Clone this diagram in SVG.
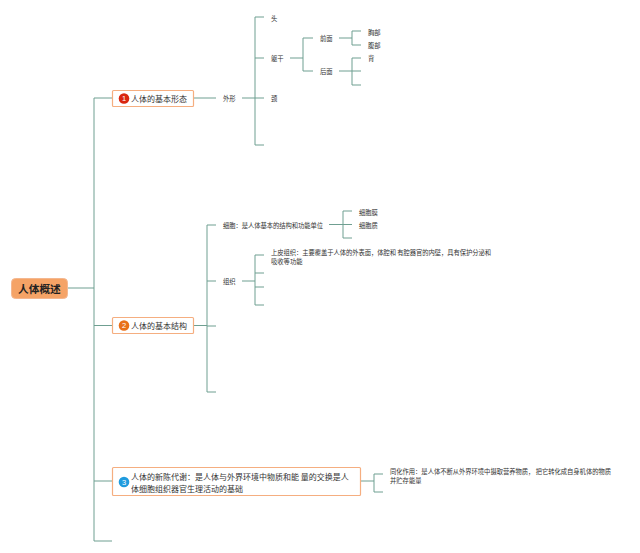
<svg xmlns="http://www.w3.org/2000/svg" width="640" height="553" viewBox="0 0 640 553">
<style>
.c{fill:none;stroke:#6f9f91;stroke-width:1}
.t{font-family:"Noto Sans CJK SC","Liberation Sans",sans-serif;fill:#333}
.s{font-size:6.300px;dominant-baseline:central}
.m{font-size:8px;dominant-baseline:central}
.b{fill:#fff;stroke:#f5ae80;stroke-width:1.200}
.n{font-family:"Liberation Sans",sans-serif;font-size:7.500px;fill:#fff;text-anchor:middle;dominant-baseline:central}
</style>
<rect width="640" height="553" fill="#fff"/>
<g id="connectors" class="c">
<path d="M67 288H94M112 98H94V541H112M94 325.500H112M94 481H112"/>
<path d="M194 98H216M242 98H264M264 17H255V145H264M255 58H264"/>
<path d="M290 58H303M313 38H303V71H313"/>
<path d="M339 38H352M361 31H352V45H361"/>
<path d="M339 71H361M361 58H352V85H361"/>
<path d="M194 325.500H207M216 225H207V392H216M207 281H216M207 326H216"/>
<path d="M329 224.500H352M352 211H343V238H352"/>
<path d="M242 281H255M264 255H255V305H264M255 273H264M255 287H264"/>
<path d="M361 481H374M383 474H374V492H383"/>
</g>
<g id="root"><rect x="11.500" y="278.500" width="56" height="20" rx="4" fill="#f5a366" stroke="#f4b78f"/><text class="t" x="18" y="288.500" font-size="10.700" font-weight="700" dominant-baseline="central" style="fill:#222">人体概述</text></g>
<g id="n1"><rect class="b" x="112.500" y="90.500" width="81" height="16" rx="1"/><circle cx="124" cy="98.500" r="5.300" fill="#d9260f"/><text class="n" x="124" y="98.500">1</text><text class="t m" x="131" y="98.500">人体的基本形态</text></g>
<g id="n2"><rect class="b" x="112.500" y="317.500" width="81" height="16" rx="1"/><circle cx="124" cy="325.500" r="5.300" fill="#e8701a"/><text class="n" x="124" y="325.500">2</text><text class="t m" x="131" y="325.500">人体的基本结构</text></g>
<g id="n3"><rect class="b" x="112.500" y="467.500" width="248" height="28" rx="1"/><circle cx="124" cy="482" r="5.300" fill="#1f9bde"/><text class="n" x="124" y="482">3</text><text class="t m" x="131" y="476.500">人体的新陈代谢：是人体与外界环境中物质和能 量的交换是人</text><text class="t m" x="131" y="488">体细胞组织器官生理活动的基础</text></g>
<g id="waixing"><text class="t s" x="223" y="98.500">外形</text></g>
<g id="tou"><text class="t s" x="271" y="18">头</text></g>
<g id="qugan"><text class="t s" x="271" y="58.500">躯干</text></g>
<g id="jing"><text class="t s" x="271" y="98.500">颈</text></g>
<g id="qianmian"><text class="t s" x="320" y="38.500">前面</text></g>
<g id="houmian"><text class="t s" x="320" y="71.500">后面</text></g>
<g id="xiongbu"><text class="t s" x="368" y="32">胸部</text></g>
<g id="fubu"><text class="t s" x="368" y="45">腹部</text></g>
<g id="bei"><text class="t s" x="368" y="58.500">背</text></g>
<g id="xibao"><text class="t s" x="223" y="225" textLength="100">细胞：是人体基本的结构和功能单位</text></g>
<g id="xibaomo"><text class="t s" x="359" y="212">细胞膜</text></g>
<g id="xibaozhi"><text class="t s" x="359" y="225">细胞质</text></g>
<g id="zuzhi"><text class="t s" x="223" y="281">组织</text></g>
<g id="shangpi"><text class="t s" x="271" y="252" textLength="220">上皮组织：主要覆盖于人体的外表面，体腔和 有腔器官的内壁，具有保护分泌和</text><text class="t s" x="271" y="261">吸收等功能</text></g>
<g id="tonghua"><text class="t s" x="390" y="471" textLength="221">同化作用：是人体不断从外界环境中摄取营养物质， 把它转化成自身机体的物质</text><text class="t s" x="390" y="480">并贮存能量</text></g>
</svg>
